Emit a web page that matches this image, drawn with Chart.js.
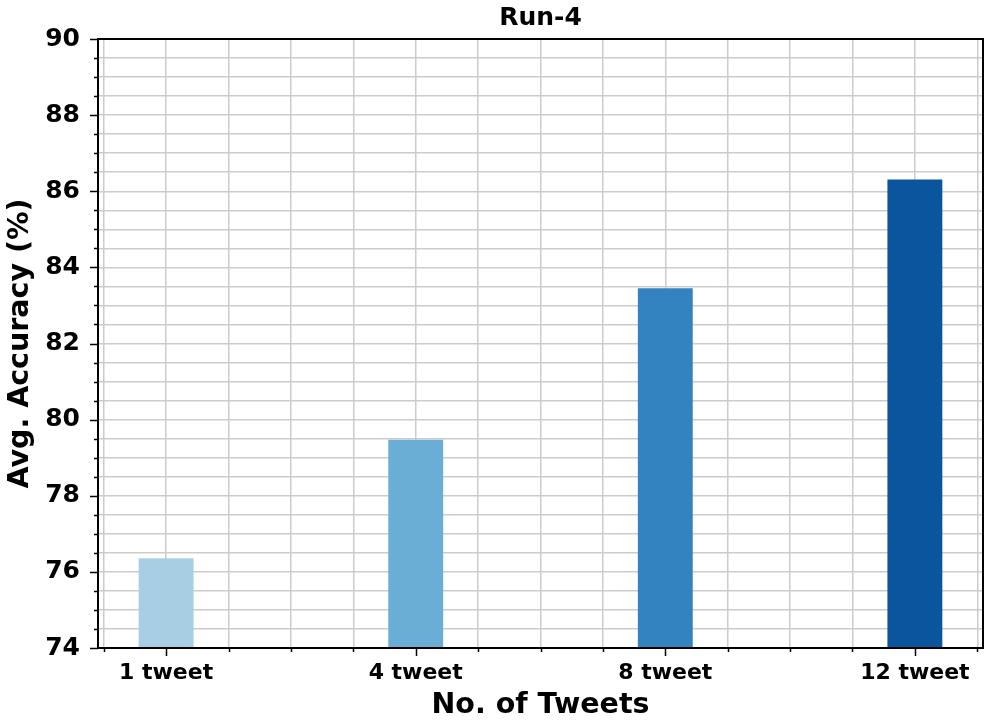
<!DOCTYPE html>
<html>
<head>
<meta charset="utf-8">
<script src="https://cdn.jsdelivr.net/npm/chart.js@4/dist/chart.umd.min.js"></script>
<style>
  html, body { margin: 0; padding: 0; background: #fff; }
  #wrap { width: 991px; height: 722px; }
</style>
</head>
<body>
<div id="wrap"><canvas id="runChart" width="991" height="722"></canvas></div>
<script>
'use strict';

// ── Data ──────────────────────────────────────────────────────
const categories  = ['1 tweet', '4 tweet', '8 tweet', '12 tweet'];
const accuracy    = [76.36, 79.47, 83.45, 86.31];
const barColors   = ['#a8cee4', '#6aaed6', '#3383c0', '#0b559f'];
const yTickLabels = [74, 76, 78, 80, 82, 84, 86, 88, 90];
const chartTitle  = 'Run-4';

const FONT   = "'DejaVu Sans', sans-serif";
const GRID   = '#cccccc';
const Y_MIN  = 74, Y_MAX = 90, Y_MINOR = 0.5;
const X_MIN  = -0.273, X_MAX = 3.273, X_MINOR = 0.25;

// matplotlib-like spines, major/minor tick marks, title centred on the axes
const framePlugin = {
    id: 'frame',
    afterDraw(chart) {
        const { ctx, chartArea: a, scales: { x, y } } = chart;
        ctx.save();
        ctx.strokeStyle = '#000';
        ctx.lineWidth = 1.5;
        ctx.beginPath();
        y.ticks.forEach(t => {
            const py = Math.round(y.getPixelForValue(t.value)) + 0.5;
            const len = yTickLabels.includes(t.value) ? 8 : 4;
            ctx.moveTo(a.left, py); ctx.lineTo(a.left - len, py);
        });
        x.ticks.forEach(t => {
            const px = Math.round(x.getPixelForValue(t.value)) + 0.5;
            const len = Number.isInteger(t.value) ? 8 : 4;
            ctx.moveTo(px, a.bottom); ctx.lineTo(px, a.bottom + len);
        });
        ctx.stroke();
        ctx.lineWidth = 2;
        ctx.strokeRect(a.left, a.top, a.right - a.left, a.bottom - a.top);

        ctx.fillStyle = '#000';
        ctx.font = `bold 25px ${FONT}`;
        ctx.textAlign = 'center';
        ctx.textBaseline = 'alphabetic';
        ctx.fillText(chartTitle, (a.left + a.right) / 2, 25);
        ctx.restore();
    }
};

new Chart(document.getElementById('runChart').getContext('2d'), {
    type: 'bar',
    data: {
        datasets: [{
            data: categories.map((c, i) => ({ x: i, y: accuracy[i] })),
            backgroundColor: barColors,
            borderWidth: 0,
            categoryPercentage: 1,
            barPercentage: 0.88   // of the 0.25 minor step -> 0.22 units
        }]
    },
    options: {
        responsive: false, animation: false,
        layout: { padding: { top: 39, right: 8, bottom: 0, left: 0 } },
        plugins: {
            legend: { display: false }, tooltip: { enabled: false }, title: { display: false }
        },
        scales: {
            x: {
                type: 'linear', min: X_MIN, max: X_MAX, offset: false,
                afterFit: s => { s.height = 74; },
                afterBuildTicks: s => {
                    const t = [];
                    for (let v = -0.25; v <= 3.25 + 1e-9; v += X_MINOR) t.push({ value: Math.round(v * 100) / 100 });
                    s.ticks = t;
                },
                grid: { color: GRID, lineWidth: 1.5, drawTicks: false, offset: false },
                border: { display: false },
                ticks: {
                    autoSkip: false, maxRotation: 0, padding: 12, color: '#000',
                    font: { family: FONT, size: 22, weight: 'bold' },
                    callback: v => Number.isInteger(v) && categories[v] ? categories[v] : ''
                },
                title: {
                    display: true, text: 'No. of Tweets', color: '#000',
                    font: { family: FONT, size: 28.5, weight: 'bold', lineHeight: 1.2 },
                    padding: { top: 0, bottom: -1 }
                }
            },
            y: {
                min: Y_MIN, max: Y_MAX,
                afterFit: s => { s.width = 98; },
                afterBuildTicks: s => {
                    const t = [];
                    for (let v = Y_MIN; v <= Y_MAX + 1e-9; v += Y_MINOR) t.push({ value: v });
                    s.ticks = t;
                },
                grid: { color: GRID, lineWidth: 1.5, drawTicks: false },
                border: { display: false },
                ticks: {
                    autoSkip: false, padding: 18, color: '#000',
                    font: { family: FONT, size: 25, weight: 'bold' },
                    callback: v => yTickLabels.includes(v) ? String(v) : ''
                },
                title: {
                    display: true, text: 'Avg. Accuracy (%)', color: '#000',
                    font: { family: FONT, size: 28.5, weight: 'bold', lineHeight: 1.2 },
                    padding: { top: 3, bottom: 0 }
                }
            }
        }
    },
    plugins: [framePlugin]
});
</script>
</body>
</html>
